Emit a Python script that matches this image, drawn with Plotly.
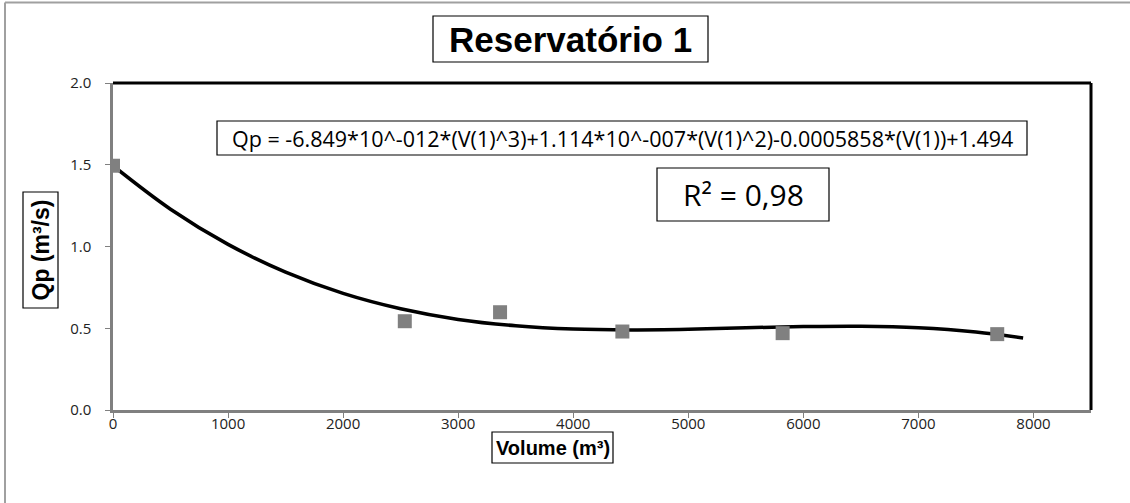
import plotly.graph_objects as go

# Observed data points (Volume m³, Qp m³/s)
volume = [0, 2536, 3364, 4427, 5820, 7685]
qp = [1.494, 0.543, 0.598, 0.480, 0.470, 0.464]

# Trend line
trend_v = [0, 500, 1000, 1500, 2000, 2500, 3000, 3500, 4000, 4500, 5000, 5500, 6000, 6500, 7000, 7500, 7910]
trend_q = [1.494, 1.228, 1.013, 0.843, 0.713, 0.619, 0.554, 0.515, 0.495, 0.490, 0.494, 0.503, 0.510, 0.512, 0.503, 0.477, 0.440]

x_ticks = [0, 1000, 2000, 3000, 4000, 5000, 6000, 7000, 8000]
y_ticks = [0.0, 0.5, 1.0, 1.5, 2.0]
y_tick_text = ["0.0", "0.5", "1.0", "1.5", "2.0"]

title_text = "Reservatório 1"
equation_text = "Qp = -6.849*10^-012*(V(1)^3)+1.114*10^-007*(V(1)^2)-0.0005858*(V(1))+1.494"
r2_text = "R² = 0,98"
x_title = "Volume (m³)"
y_title = "Qp (m³/s)"

W, H = 1130, 503
L, R, T, B = 113, 39, 83, 93
pw, ph = W - L - R, H - T - B

def px(x):
    return (x - L) / pw

def py(y):
    return 1 - (y - T) / ph

fig = go.Figure()
fig.add_trace(go.Scatter(
    x=trend_v, y=trend_q, mode="lines",
    line=dict(color="black", width=3.5, shape="spline"),
    hoverinfo="skip", showlegend=False))
fig.add_trace(go.Scatter(
    x=volume, y=qp, mode="markers",
    marker=dict(symbol="square", size=14, color="#808080"),
    showlegend=False))

axis_font = dict(family="Open Sans, Liberation Sans, sans-serif", size=15, color="#222222")

fig.update_xaxes(
    range=[0, 8500], tickvals=x_ticks, ticktext=[str(v) for v in x_ticks],
    showgrid=False, zeroline=False, showline=True, linecolor="#808080", linewidth=2.5,
    ticks="outside", ticklen=5, tickcolor="#808080", tickwidth=1,
    ticklabelstandoff=-7, tickfont=axis_font)
fig.update_yaxes(
    range=[0, 2.0], tickvals=y_ticks, ticktext=y_tick_text,
    showgrid=False, zeroline=False, showline=True, linecolor="#808080", linewidth=2.5,
    ticks="outside", ticklen=5, tickcolor="#808080", tickwidth=1,
    ticklabelstandoff=11, tickfont=axis_font)

def box(x0, y0, x1, y1):
    return dict(type="rect", xref="paper", yref="paper",
                x0=px(x0), x1=px(x1), y0=py(y1), y1=py(y0),
                line=dict(color="black", width=1.2), fillcolor="white", layer="below")

shapes = [
    # top and right black plot frame lines
    dict(type="line", xref="paper", yref="paper", x0=0, x1=1, y0=1, y1=1,
         line=dict(color="black", width=3)),
    dict(type="line", xref="paper", yref="paper", x0=1, x1=1, y0=0, y1=1,
         line=dict(color="black", width=3)),
    # outer chart border (top and left)
    dict(type="line", xref="paper", yref="paper", x0=px(5), x1=px(1130), y0=py(2.5), y1=py(2.5),
         line=dict(color="#a0a0a0", width=2)),
    dict(type="line", xref="paper", yref="paper", x0=px(5), x1=px(5), y0=py(2.5), y1=py(503),
         line=dict(color="#a0a0a0", width=2)),
    # text boxes
    box(433, 16, 708, 62),
    box(217, 121, 1027, 155),
    box(657, 168, 829, 221),
    box(492, 432, 613, 463),
    box(23, 192, 58, 308),
]

annotations = [
    dict(text="<b>" + title_text + "</b>", xref="paper", yref="paper", x=px(570.5), y=py(39),
         xanchor="center", yanchor="middle", showarrow=False,
         font=dict(family="Liberation Sans, Arial, sans-serif", size=35, color="black")),
    dict(text=equation_text, xref="paper", yref="paper", x=px(622), y=py(138),
         xanchor="center", yanchor="middle", showarrow=False,
         font=dict(family="Open Sans, Liberation Sans, sans-serif", size=21.5, color="black")),
    dict(text=r2_text, xref="paper", yref="paper", x=px(743), y=py(194.5),
         xanchor="center", yanchor="middle", showarrow=False,
         font=dict(family="Open Sans, Liberation Sans, sans-serif", size=30, color="black")),
    dict(text="<b>" + x_title + "</b>", xref="paper", yref="paper", x=px(552.5), y=py(447.5),
         xanchor="center", yanchor="middle", showarrow=False,
         font=dict(family="Liberation Sans, Arial, sans-serif", size=20, color="black")),
    dict(text="<b>" + y_title + "</b>", xref="paper", yref="paper", x=px(40.5), y=py(250),
         xanchor="center", yanchor="middle", showarrow=False, textangle=-90,
         font=dict(family="Liberation Sans, Arial, sans-serif", size=23, color="black")),
]

fig.update_layout(
    width=W, height=H,
    margin=dict(l=L, r=R, t=T, b=B, autoexpand=False),
    paper_bgcolor="white", plot_bgcolor="white",
    shapes=shapes, annotations=annotations,
    showlegend=False,
)

fig.write_html("out.html", config={"displayModeBar": False},
               post_script="document.body.style.margin='0px';document.body.style.overflow='hidden';")
